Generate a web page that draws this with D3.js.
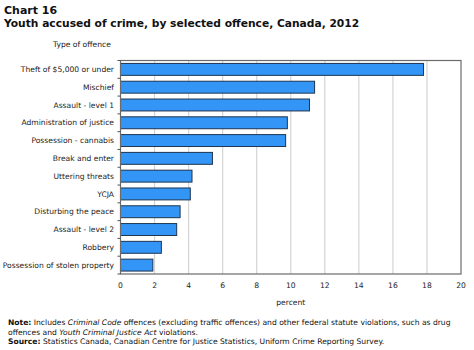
<!DOCTYPE html>
<html><head><meta charset="utf-8">
<script src="https://cdn.jsdelivr.net/npm/d3@7"></script>
<style>body{margin:0;background:#fff;}svg{display:block;font-family:"DejaVu Sans",Verdana,sans-serif;}</style>
</head><body>
<svg id="c" width="474" height="350"></svg>
<script>
const categories = ["Theft of $5,000 or under","Mischief","Assault - level 1","Administration of justice","Possession - cannabis","Break and enter","Uttering threats","YCJA","Disturbing the peace","Assault - level 2","Robbery","Possession of stolen property"];
const values = [17.8,11.4,11.1,9.8,9.7,5.4,4.2,4.1,3.5,3.3,2.4,1.9];
const xTicks = [0,2,4,6,8,10,12,14,16,18,20];

const svg = d3.select("#c");
const L = 120.5, R = 461, T = 60.5, B = 274;
const x = d3.scaleLinear().domain([0,20]).range([L,R]);
const y = d3.scaleBand().domain(categories).range([T,B]).paddingInner(0.33).paddingOuter(0.165);

// gridlines
svg.append("g").selectAll("line").data(xTicks.slice(1,-1)).join("line")
  .attr("x1",d=>x(d)).attr("x2",d=>x(d)).attr("y1",T).attr("y2",B)
  .attr("stroke","#d4d4d4").attr("stroke-width",1.2);

// bars
svg.append("g").selectAll("rect").data(values).join("rect")
  .attr("x",x(0)).attr("y",(d,i)=>y(categories[i]))
  .attr("width",d=>x(d)-x(0)).attr("height",y.bandwidth())
  .attr("fill","#3396f7").attr("stroke","#1e3550").attr("stroke-width",1);

// frame
svg.append("rect").attr("x",L).attr("y",T).attr("width",R-L).attr("height",B-T)
  .attr("fill","none").attr("stroke","#6b6b6b").attr("stroke-width",1.2);

// category ticks at band boundaries
const bounds = d3.range(categories.length+1).map(i=>T + i*(B-T)/categories.length);
svg.append("g").selectAll("line").data(bounds).join("line")
  .attr("x1",L-3).attr("x2",L).attr("y1",d=>d).attr("y2",d=>d)
  .attr("stroke","#555").attr("stroke-width",1);

// category labels
svg.append("g").selectAll("text").data(categories).join("text")
  .attr("x",114).attr("y",d=>y(d)+y.bandwidth()/2).attr("dy","0.35em")
  .attr("text-anchor","end").attr("font-size","7.6px").attr("fill","#222")
  .text(d=>d);

// x tick labels
svg.append("g").selectAll("text").data(xTicks).join("text")
  .attr("x",d=>x(d)).attr("y",285).attr("dy","0.35em")
  .attr("text-anchor","middle").attr("font-size","7.6px").attr("fill","#222")
  .text(d=>d);

svg.append("text").attr("x",(L+R)/2).attr("y",302).attr("dy","0.35em")
  .attr("text-anchor","middle").attr("font-size","7.6px").attr("fill","#222").text("percent");

svg.append("text").attr("x",53).attr("y",47).attr("font-size","7.6px").attr("fill","#222").text("Type of offence");

// titles
svg.append("text").attr("x",4).attr("y",14).attr("font-size","11px").attr("font-weight","bold").attr("fill","#111").text("Chart 16");
svg.append("text").attr("x",4).attr("y",27).attr("font-size","10.7px").attr("font-weight","bold").attr("fill","#111").text("Youth accused of crime, by selected offence, Canada, 2012");

// notes
const n1 = svg.append("text").attr("x",8).attr("y",325).attr("font-size","7.6px").attr("fill","#111");
n1.append("tspan").attr("font-weight","bold").text("Note:");
n1.append("tspan").text(" Includes ");
n1.append("tspan").attr("font-style","italic").text("Criminal Code");
n1.append("tspan").text(" offences (excluding traffic offences) and other federal statute violations, such as drug");
const n2 = svg.append("text").attr("x",8).attr("y",334.5).attr("font-size","7.6px").attr("fill","#111");
n2.append("tspan").text("offences and ");
n2.append("tspan").attr("font-style","italic").text("Youth Criminal Justice Act");
n2.append("tspan").text(" violations.");
const n3 = svg.append("text").attr("x",8).attr("y",344).attr("font-size","7.6px").attr("fill","#111");
n3.append("tspan").attr("font-weight","bold").text("Source:");
n3.append("tspan").text(" Statistics Canada, Canadian Centre for Justice Statistics, Uniform Crime Reporting Survey.");
</script>
</body></html>
